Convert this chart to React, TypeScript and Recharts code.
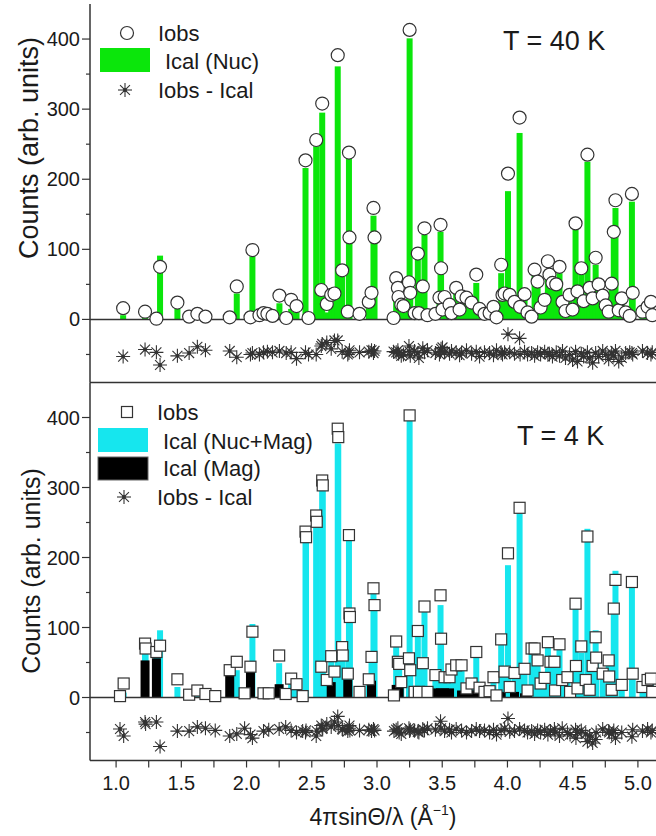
import { Bar, ComposedChart, ReferenceLine, Scatter, XAxis, YAxis } from "recharts";

// ---- T = 40 K panel (nuclear only) ----
const topQ = [
  1.054, 1.222, 1.309, 1.337, 1.47, 1.56, 1.623, 1.685, 1.871, 1.925,
  2.03, 2.045, 2.099, 2.13, 2.16, 2.199, 2.252, 2.304, 2.342, 2.383,
  2.452, 2.475, 2.534, 2.573, 2.58, 2.615, 2.649, 2.674, 2.699, 2.733,
  2.776, 2.785, 2.789, 2.866, 2.937, 2.958, 2.973, 2.981, 3.127, 3.147,
  3.16, 3.165, 3.186, 3.203, 3.245, 3.25, 3.255, 3.288, 3.313, 3.321,
  3.351, 3.364, 3.387, 3.448, 3.479, 3.487, 3.491, 3.502, 3.518, 3.556,
  3.571, 3.607, 3.633, 3.648, 3.686, 3.725, 3.761, 3.786, 3.824, 3.863,
  3.893, 3.916, 3.952, 3.962, 3.978, 4.004, 4.017, 4.054, 4.093, 4.097,
  4.131, 4.154, 4.185, 4.208, 4.231, 4.254, 4.285, 4.31, 4.322, 4.345,
  4.374, 4.399, 4.422, 4.445, 4.476, 4.499, 4.522, 4.537, 4.566, 4.584,
  4.613, 4.63, 4.653, 4.676, 4.699, 4.73, 4.753, 4.776, 4.799, 4.815,
  4.828, 4.853, 4.876, 4.906, 4.937, 4.954, 4.96, 5.035, 5.074, 5.1,
  5.11,
];
const topCalc = [
  6, 3, 0, 91, 15, 0, 2, 0, 0, 37,
  0, 90, 0, 2, 0, 0, 23, 0, 15, 12,
  216, 0, 247, 35, 295, 10, 28, 30, 361, 64,
  5, 229, 110, 0, 18, 32, 148, 110, 0, 52,
  38, 26, 12, 10, 46, 401, 30, 3, 85, 2,
  40, 121, 0, 2, 24, 125, 66, 8, 26, 14,
  3, 38, 6, 26, 24, 18, 52, 8, 2, 4,
  12, 0, 66, 28, 30, 183, 28, 18, 266, 10,
  30, 4, 0, 62, 47, 10, 20, 71, 56, 45,
  43, 66, 18, 6, 28, 8, 128, 34, 64, 20,
  225, 38, 24, 78, 45, 28, 14, 5, 45, 125,
  159, 8, 24, 4, 0, 168, 32, 6, 12, 18,
  0,
];
const topObs = [
  16, 11, 1, 75, 24, 4, 8, 4, 3, 47,
  3, 99, 6, 9, 8, 5, 34, 2, 28, 19,
  227, 2, 256, 42, 308, 22, 35, 37, 377, 70,
  11, 238, 117, 8, 25, 38, 159, 117, 2, 59,
  45, 32, 21, 19, 53, 413, 38, 9, 94, 9,
  47, 130, 6, 8, 31, 135, 73, 14, 32, 21,
  9, 45, 14, 33, 31, 24, 64, 15, 8, 9,
  18, 3, 78, 35, 37, 208, 35, 25, 288, 18,
  36, 10, 4, 71, 54, 17, 28, 83, 64, 52,
  50, 75, 25, 12, 35, 14, 137, 40, 73, 26,
  235, 45, 30, 88, 50, 34, 20, 11, 51, 125,
  170, 13, 30, 10, 5, 179, 38, 11, 18, 25,
  6,
];
const topDiff = [
  -53, -43, -47, -65, -52, -48, -39, -44, -45, -54,
  -50, -48, -50, -47, -46, -47, -45, -48, -47, -56,
  -47, -50, -50, -38, -35, -33, -42, -30, -30, -46,
  -50, -48, -44, -47, -46, -44, -48, -45, -46, -47,
  -44, -49, -52, -50, -38, -46, -52, -45, -48, -55,
  -41, -47, -44, -48, -50, -46, -42, -40, -47, -49,
  -45, -47, -51, -48, -44, -49, -46, -53, -47, -48,
  -51, -44, -48, -50, -47, -21, -47, -49, -27, -50,
  -46, -50, -48, -52, -47, -50, -46, -49, -50, -53,
  -47, -52, -45, -55, -50, -58, -46, -60, -49, -53,
  -47, -55, -62, -48, -53, -45, -50, -57, -48, -52,
  -45, -60, -55, -48, -47, -48, -50, -45, -48, -50,
  -47,
];

// ---- T = 4 K panel (nuclear + magnetic) ----
const botQ = [
  1.03, 1.058, 1.222, 1.226, 1.309, 1.337, 1.47, 1.56, 1.623, 1.685,
  1.76, 1.871, 1.925, 1.985, 2.03, 2.045, 2.13, 2.17, 2.25, 2.3,
  2.342, 2.383, 2.43, 2.452, 2.456, 2.534, 2.538, 2.573, 2.58, 2.584,
  2.615, 2.649, 2.674, 2.699, 2.703, 2.733, 2.737, 2.776, 2.785, 2.789,
  2.792, 2.866, 2.937, 2.958, 2.973, 2.981, 3.13, 3.147, 3.16, 3.17,
  3.186, 3.245, 3.25, 3.255, 3.288, 3.313, 3.321, 3.351, 3.364, 3.387,
  3.448, 3.487, 3.491, 3.518, 3.556, 3.571, 3.607, 3.648, 3.686, 3.725,
  3.761, 3.786, 3.824, 3.863, 3.893, 3.916, 3.952, 3.978, 4.004, 4.017,
  4.054, 4.093, 4.131, 4.154, 4.185, 4.208, 4.231, 4.254, 4.285, 4.31,
  4.33, 4.36, 4.365, 4.399, 4.42, 4.46, 4.48, 4.522, 4.525, 4.537,
  4.566, 4.6, 4.613, 4.63, 4.653, 4.676, 4.68, 4.73, 4.776, 4.78,
  4.799, 4.815, 4.828, 4.876, 4.954, 4.96, 5.035, 5.074, 5.1, 5.11,
];
const botCalc = [
  0, 7, 65, 62, 60, 96, 15, 0, 2, 0,
  0, 46, 39, 0, 44, 105, 0, 0, 49, 0,
  20, 14, 0, 234, 228, 256, 250, 35, 301, 300,
  18, 52, 30, 363, 362, 66, 55, 28, 225, 112,
  110, 0, 18, 50, 149, 125, 0, 72, 44, 40,
  14, 48, 403, 32, 2, 87, 2, 42, 122, 0,
  26, 132, 76, 22, 20, 44, 40, 38, 10, 14,
  58, 8, 8, 8, 22, 8, 75, 30, 189, 8,
  28, 263, 34, 6, 62, 62, 46, 13, 20, 85,
  44, 44, 4, 82, 18, 22, 2, 127, 38, 6,
  64, 18, 241, 4, 38, 96, 50, 28, 46, 24,
  5, 120, 181, 12, 173, 28, 8, 18, 20, 0,
];
const botMag = [
  0, 0, 53, 0, 56, 0, 0, 0, 0, 0,
  0, 46, 0, 0, 44, 0, 0, 0, 19, 0,
  0, 0, 0, 0, 0, 0, 0, 0, 0, 0,
  0, 22, 0, 0, 0, 0, 0, 25, 0, 0,
  0, 0, 0, 24, 0, 0, 0, 18, 0, 18,
  0, 0, 0, 0, 0, 0, 0, 0, 0, 0,
  13, 13, 0, 13, 13, 0, 0, 10, 10, 10,
  10, 8, 8, 8, 8, 8, 8, 0, 0, 0,
  8, 0, 6, 6, 0, 0, 0, 0, 0, 0,
  0, 0, 0, 0, 0, 0, 0, 0, 0, 0,
  0, 0, 0, 0, 0, 0, 0, 0, 0, 0,
  0, 0, 0, 0, 0, 0, 0, 0, 0, 0,
];
const botObs = [
  2, 20, 77, 70, 65, 74, 26, 4, 10, 5,
  2, 39, 51, 6, 44, 94, 6, 6, 60, 5,
  27, 19, 2, 237, 229, 260, 251, 44, 310, 303,
  25, 59, 37, 384, 372, 72, 60, 34, 232, 120,
  115, 8, 26, 58, 156, 132, 3, 80, 51, 48,
  22, 56, 403, 39, 8, 95, 8, 49, 130, 8,
  32, 146, 84, 29, 29, 40, 46, 46, 13, 20,
  65, 14, 8, 9, 29, 3, 83, 37, 206, 15,
  35, 271, 41, 10, 70, 70, 53, 20, 28, 79,
  51, 51, 10, 76, 25, 29, 8, 134, 45, 13,
  73, 25, 230, 11, 45, 86, 57, 34, 53, 30,
  11, 127, 168, 18, 165, 34, 15, 25, 27, 8,
];
const botDiff = [
  -45, -55, -35, -38, -35, -70, -48, -48, -42, -44,
  -47, -55, -52, -44, -53, -58, -48, -46, -45, -42,
  -47, -50, -48, -50, -47, -55, -48, -40, -45, -44,
  -38, -42, -35, -27, -40, -45, -46, -48, -44, -40,
  -47, -47, -46, -48, -45, -47, -48, -46, -44, -50,
  -52, -44, -48, -46, -47, -49, -50, -45, -47, -44,
  -46, -34, -44, -48, -46, -50, -45, -47, -50, -48,
  -45, -48, -47, -50, -46, -53, -47, -44, -30, -49,
  -48, -45, -47, -50, -48, -52, -47, -50, -46, -53,
  -48, -45, -50, -55, -44, -50, -53, -46, -58, -50,
  -47, -52, -63, -55, -65, -60, -50, -45, -48, -50,
  -52, -47, -58, -50, -56, -46, -48, -45, -50, -47,
];

const xTicks = [1, 1.25, 1.5, 1.75, 2, 2.25, 2.5, 2.75, 3, 3.25, 3.5, 3.75, 4, 4.25, 4.5, 4.75, 5];
const yTicks = [-50, 0, 50, 100, 150, 200, 250, 300, 350, 400];
const X_DOMAIN: [number, number] = [0.8, 5.2];
const Y_DOMAIN: [number, number] = [-90, 450];

const GREEN = "#0be60b";
const CYAN = "#16e6ee";
const AX = "#333";
const MK = "#333";
const TXT = "#1a1a1a";
const FONT = '"Liberation Sans", Arial, sans-serif';

const topRows = topQ.map((x, i) => ({ x, calc: topCalc[i], obs: topObs[i], diff: topDiff[i] }));
const botRows = botQ.map((x, i) => ({
  x,
  calc: botCalc[i],
  mag: botMag[i],
  obs: botObs[i],
  diff: botDiff[i],
}));

function StarMark({ cx, cy, r = 7 }: any) {
  const d = r * 0.707;
  return (
    <g stroke={MK} strokeWidth={1.1}>
      <line x1={cx - r} y1={cy} x2={cx + r} y2={cy} />
      <line x1={cx} y1={cy - r} x2={cx} y2={cy + r} />
      <line x1={cx - d} y1={cy - d} x2={cx + d} y2={cy + d} />
      <line x1={cx - d} y1={cy + d} x2={cx + d} y2={cy - d} />
      <circle cx={cx} cy={cy} r={1.4} fill={MK} />
    </g>
  );
}

function CircleMark({ cx, cy }: any) {
  return <circle cx={cx} cy={cy} r={6.5} fill="#fff" stroke={MK} strokeWidth={1.2} />;
}

function SquareMark({ cx, cy }: any) {
  return <rect x={cx - 5.5} y={cy - 5.5} width={11} height={11} fill="#fff" stroke={MK} strokeWidth={1.2} />;
}

// reflections sit closer than a bar width, so recharts squeezes the band;
// keep its centre and height but draw a fixed-width stick
function stick(w: number, fill: string) {
  return (p: any) => {
    if (!p.height || !isFinite(p.height) || p.height <= 0) return <g />;
    const cx = p.x + (p.width || 0) / 2;
    return <rect x={cx - w / 2} y={p.y} width={w} height={p.height} fill={fill} />;
  };
}

const TICK_SIZE = 8;
const TICK_MARGIN = 2;

// y ticks: long for labelled hundreds, short for the fifties
function YTick({ x, y, payload }: any) {
  const v = payload.value;
  const major = v >= 0 && v % 100 === 0;
  const axisX = x + TICK_SIZE + TICK_MARGIN;
  return (
    <g>
      <line x1={axisX} x2={axisX - (major ? 8 : 4)} y1={y} y2={y} stroke={AX} strokeWidth={1.2} />
      {major && (
        <text x={x} y={y} dy={7} textAnchor="end" fontSize={20} fill={TXT} fontFamily={FONT}>
          {v}
        </text>
      )}
    </g>
  );
}

const xLabel = (v: number) => (Math.abs(v * 2 - Math.round(v * 2)) < 1e-6 ? v.toFixed(1) : "");

function Panel({ rows, mag, bottom }: { rows: any[]; mag: boolean; bottom: boolean }) {
  const height = bottom ? 454.5 : 395;
  return (
    <ComposedChart
      width={680}
      height={height}
      data={rows}
      margin={{ top: bottom ? 4.5 : 4, right: 16, bottom: bottom ? 0 : 4.5, left: 0 }}
    >
      <XAxis
        dataKey="x"
        type="number"
        domain={X_DOMAIN}
        allowDataOverflow
        ticks={xTicks}
        interval={0}
        height={bottom ? 72 : 8}
        tickSize={7}
        tickMargin={8}
        tick={bottom ? { fontSize: 20, fill: TXT, fontFamily: FONT } : false}
        tickFormatter={xLabel}
        axisLine={{ stroke: AX, strokeWidth: 1.5 }}
        tickLine={{ stroke: AX, strokeWidth: 1.2 }}
      />
      {!bottom && (
        <XAxis
          xAxisId="top"
          orientation="top"
          type="number"
          domain={X_DOMAIN}
          allowDataOverflow
          height={0}
          tick={false}
          tickLine={false}
          axisLine={{ stroke: AX, strokeWidth: 1.5 }}
        />
      )}
      {mag && <XAxis xAxisId="mag" dataKey="x" type="number" domain={X_DOMAIN} allowDataOverflow hide />}
      <YAxis
        type="number"
        domain={Y_DOMAIN}
        allowDataOverflow
        ticks={yTicks}
        interval={0}
        width={90}
        tickSize={TICK_SIZE}
        tickMargin={TICK_MARGIN}
        tickLine={false}
        tick={<YTick />}
        axisLine={{ stroke: AX, strokeWidth: 1.5 }}
      />
      <ReferenceLine y={0} stroke={AX} strokeWidth={1.5} />
      <Bar
        dataKey="calc"
        fill={mag ? CYAN : GREEN}
        shape={stick(6, mag ? CYAN : GREEN)}
        isAnimationActive={false}
      />
      {mag && (
        <Bar xAxisId="mag" dataKey="mag" fill="#000" shape={stick(9, "#000")} isAnimationActive={false} />
      )}
      <Scatter dataKey="obs" shape={mag ? <SquareMark /> : <CircleMark />} isAnimationActive={false} />
      <Scatter dataKey="diff" shape={<StarMark />} isAnimationActive={false} />
    </ComposedChart>
  );
}

function Overlay() {
  const lt = { fontSize: 22, fill: TXT, fontFamily: FONT, dominantBaseline: "central" as const };
  return (
    <svg
      width={656}
      height={836}
      style={{ position: "absolute", left: 0, top: 0, pointerEvents: "none" }}
    >
      {/* top legend */}
      <circle cx={127} cy={33} r={6.5} fill="#fff" stroke={MK} strokeWidth={1.2} />
      <text x={158} y={33} {...lt}>Iobs</text>
      <rect x={100} y={48} width={50} height={24} fill={GREEN} />
      <text x={165} y={61} {...lt}>Ical (Nuc)</text>
      <StarMark cx={125} cy={90} />
      <text x={158} y={90} {...lt}>Iobs - Ical</text>
      <text x={503} y={41} fontSize={27} fill={TXT} fontFamily={FONT} dominantBaseline="central">
        T = 40 K
      </text>

      {/* bottom legend */}
      <rect x={121.5} y={406.5} width={11} height={11} fill="#fff" stroke={MK} strokeWidth={1.2} />
      <text x={157} y={412} {...lt}>Iobs</text>
      <rect x={98} y={428} width={50} height={24} fill={CYAN} />
      <text x={163} y={441} {...lt}>Ical (Nuc+Mag)</text>
      <rect x={98} y={457} width={50} height={23} fill="#000" stroke="#666" strokeWidth={1} />
      <text x={163} y={468} {...lt}>Ical (Mag)</text>
      <StarMark cx={124} cy={497} />
      <text x={157} y={497} {...lt}>Iobs - Ical</text>
      <text x={517} y={436} fontSize={27} fill={TXT} fontFamily={FONT} dominantBaseline="central">
        T = 4 K
      </text>

      {/* axis titles */}
      <text
        transform="translate(29,148) rotate(-90)"
        textAnchor="middle"
        fontSize={27}
        fill={TXT}
        fontFamily={FONT}
        dominantBaseline="central"
      >
        Counts (arb. units)
      </text>
      <text
        transform="translate(31,571) rotate(-90)"
        textAnchor="middle"
        fontSize={25}
        fill={TXT}
        fontFamily={FONT}
        dominantBaseline="central"
      >
        Counts (arb. units)
      </text>
      <text x={383} y={825} textAnchor="middle" fontSize={23} fill={TXT} fontFamily={FONT}>
        4πsinΘ/λ (Å
        <tspan dy={-10} fontSize={14}>−1</tspan>
        <tspan dy={10}>)</tspan>
      </text>
    </svg>
  );
}

export default function App() {
  return (
    <div
      style={{
        position: "fixed",
        left: 0,
        top: 0,
        width: 656,
        height: 836,
        overflow: "hidden",
        background: "#fff",
        fontFamily: FONT,
      }}
    >
      <div style={{ position: "absolute", left: 0, top: 0 }}>
        <Panel rows={topRows} mag={false} bottom={false} />
      </div>
      <div style={{ position: "absolute", left: 0, top: 378 }}>
        <Panel rows={botRows} mag={true} bottom={true} />
      </div>
      <Overlay />
    </div>
  );
}
